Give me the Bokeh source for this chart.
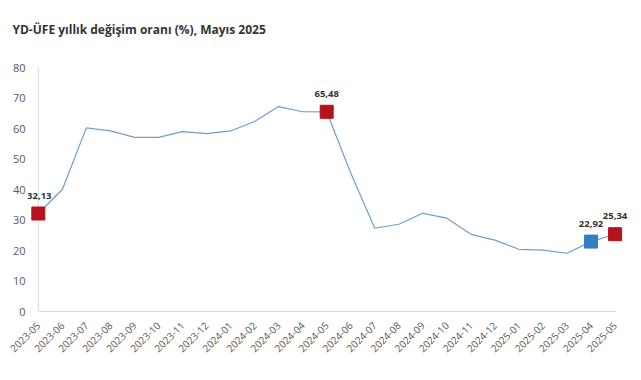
from bokeh.plotting import figure
from bokeh.models import ColumnDataSource, Range1d, FixedTicker, LabelSet, Span, Title
from bokeh.core.properties import value
from bokeh.embed import file_html
from bokeh.resources import INLINE

months = ["2023-05", "2023-06", "2023-07", "2023-08", "2023-09", "2023-10", "2023-11",
          "2023-12", "2024-01", "2024-02", "2024-03", "2024-04", "2024-05", "2024-06",
          "2024-07", "2024-08", "2024-09", "2024-10", "2024-11", "2024-12", "2025-01",
          "2025-02", "2025-03", "2025-04", "2025-05"]
values = [32.13, 40.0, 60.2, 59.2, 57.1, 57.1, 59.0, 58.3, 59.2, 62.3, 67.2, 65.5, 65.48,
          45.4, 27.3, 28.6, 32.2, 30.6, 25.3, 23.4, 20.4, 20.1, 19.1, 22.92, 25.34]
highlight_idx = [0, 12, 23, 24]
highlight_colors = ["#b5121b", "#b5121b", "#2f7fc1", "#b5121b"]
y_ticks = [0, 10, 20, 30, 40, 50, 60, 70, 80]
title_text = "YD-ÜFE yıllık değişim oranı (%), Mayıs 2025"

xs = list(range(len(months)))
src = ColumnDataSource(dict(x=xs, y=values))
hsrc = ColumnDataSource(dict(
    x=[xs[i] for i in highlight_idx],
    y=[values[i] for i in highlight_idx],
    c=highlight_colors,
    t=[f"{values[i]:.2f}".replace(".", ",") for i in highlight_idx],
    dx=[1, 0, 0, 0],
))

pad_l, pad_r = 0.45, 0.6
p = figure(width=633, height=372, output_backend="svg", toolbar_location=None,
           x_range=Range1d(-pad_l, len(months) - 1 + pad_r), y_range=Range1d(0, 80),
           min_border_left=27, min_border_right=4, min_border_top=67, min_border_bottom=61)
p.outline_line_color = None
p.xgrid.visible = False
p.ygrid.visible = False

p.title.text = ""
spacer = Title(text=" ", text_font_size="1px", standoff=27)
p.add_layout(spacer, "above")
main_title = Title(text=title_text, text_font="Open Sans", text_font_style="bold",
                   text_font_size="12px", text_color="#333333", align="left",
                   offset=-15, standoff=0)
p.add_layout(main_title, "above")

# y axis line at the first month
p.add_layout(Span(location=xs[0], dimension="height", line_color="#d9d9d9",
                  line_width=1, level="underlay"))

p.line("x", "y", source=src, line_color="#6f9fc8", line_width=1.2)
p.scatter("x", "y", source=hsrc, marker="square", size=13, fill_color="c", line_color="c")
p.add_layout(LabelSet(x="x", y="y", text="t", source=hsrc, y_offset=18, x_offset="dx",
                      text_align="center", text_baseline="middle",
                      text_font=value("Open Sans"), text_font_style="bold",
                      text_font_size="9.5px", text_color="#333333"))

p.xaxis.ticker = FixedTicker(ticks=xs)
p.xaxis.major_label_overrides = {i: m for i, m in enumerate(months)}
p.xaxis.major_label_orientation = 0.785398
p.xaxis.bounds = (0, len(months) - 1)
p.yaxis.ticker = FixedTicker(ticks=y_ticks)
p.yaxis.axis_line_color = None
for ax in (p.xaxis, p.yaxis):
    ax.major_tick_line_color = None
    ax.minor_tick_line_color = None
    ax.major_label_text_font = "Open Sans"
    ax.major_label_text_color = "#595959"
p.xaxis.axis_line_color = "#d9d9d9"
p.xaxis.major_label_text_font_size = "10px"
p.yaxis.major_label_text_font_size = "11px"
p.xaxis.major_label_standoff = 6
p.yaxis.major_label_standoff = -4

open("out.html", "w").write(file_html(p, INLINE))
